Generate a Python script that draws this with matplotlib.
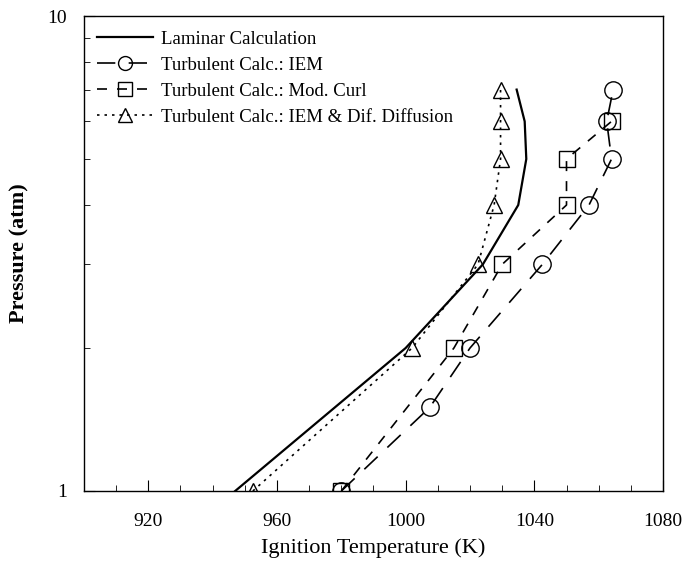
import numpy as np
import matplotlib
matplotlib.use('Agg')
import matplotlib.pyplot as plt
from matplotlib.ticker import FixedLocator, NullFormatter

# values (temperature in K, pressure in atm)
press_lam = [1, 2, 3, 4, 5, 6, 7]
temp_lam = [947, 1000, 1024, 1035, 1037.5, 1037, 1034.5]

press_iem = [1, 1.5, 2, 3, 4, 5, 6, 7]
temp_iem = [980, 1007.5, 1020, 1042.5, 1057, 1064, 1062.5, 1064.5]

press_curl = [1, 2, 3, 4, 5, 6]
temp_curl = [980, 1015, 1030, 1050, 1050, 1064]

press_dd = [1, 2, 3, 4, 5, 6, 7]
temp_dd = [952.5, 1002, 1022.5, 1027.5, 1029.5, 1029.5, 1029.5]

labels = ['Laminar Calculation',
          'Turbulent Calc.: IEM',
          'Turbulent Calc.: Mod. Curl',
          'Turbulent Calc.: IEM & Dif. Diffusion']

plt.rcParams['font.family'] = ['Liberation Serif', 'DejaVu Serif']

fig = plt.figure(figsize=(6.84, 5.74), dpi=100)
ax = fig.add_axes([0.1228, 0.1446, 0.8465, 0.8275])

lw = 1.2
ax.plot(temp_lam, press_lam, color='black', lw=1.6, label=labels[0])
ax.plot(temp_iem, press_iem, color='black', lw=lw, dashes=(11, 8),
        marker='o', ms=12.5, mfc='none', mec='black', mew=1.0, label=labels[1])
ax.plot(temp_curl, press_curl, color='black', lw=lw, dashes=(6, 6),
        marker='s', ms=12, mfc='none', mec='black', mew=1.0, label=labels[2])
ax.plot(temp_dd, press_dd, color='black', lw=lw, dashes=(1.5, 3),
        marker='^', ms=12, mfc='none', mec='black', mew=1.0, label=labels[3])

ax.set_yscale('log')
ax.set_xlim(900, 1080)
ax.set_ylim(1, 10)

ax.set_xticks([920, 960, 1000, 1040, 1080])
ax.xaxis.set_minor_locator(FixedLocator(np.arange(900, 1081, 10)))
ax.set_yticks([1, 10])
ax.set_yticklabels(['1', '10'])
ax.yaxis.set_minor_locator(FixedLocator([2, 3, 4, 5, 6, 7, 8, 9]))
ax.yaxis.set_minor_formatter(NullFormatter())

ax.tick_params(which='major', direction='in', length=8, width=0.8,
               labelsize=14)
ax.tick_params(axis='x', which='major', pad=16)
ax.tick_params(axis='y', which='major', pad=12)
ax.tick_params(which='minor', direction='in', length=4, width=0.6)
for s in ax.spines.values():
    s.set_linewidth(1.0)

ax.set_xlabel('Ignition Temperature (K)', fontsize=16, labelpad=6)
ax.set_ylabel('Pressure (atm)', fontsize=16, fontweight='bold', labelpad=13)

ax.legend(loc='upper left', bbox_to_anchor=(0.022, 0.969), frameon=False,
          fontsize=13.5, handlelength=3.0, handletextpad=0.45,
          labelspacing=0.47, borderpad=0, borderaxespad=0, markerscale=0.8)

fig.savefig('out.png', dpi=100)
